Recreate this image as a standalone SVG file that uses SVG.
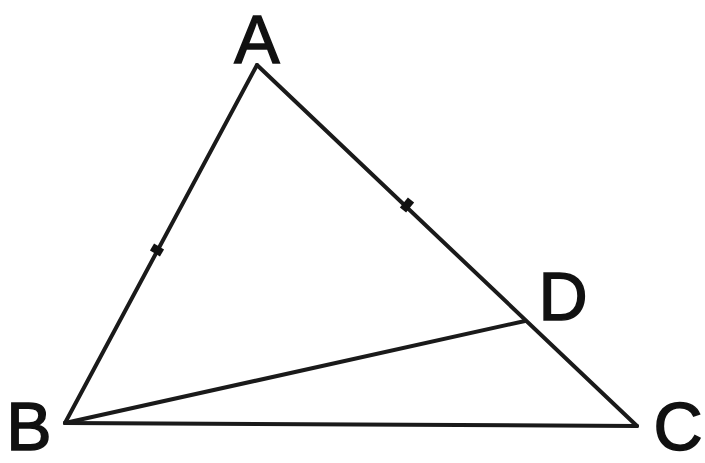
<svg xmlns="http://www.w3.org/2000/svg" width="705" height="463" viewBox="0 0 705 463">
<style>
.e{stroke:#1a1a1a;stroke-width:4;stroke-linecap:round;fill:none}
.t{stroke:#111;stroke-width:8;stroke-linecap:butt}
.l{font-family:"Liberation Sans",Arial,sans-serif;font-size:68px;fill:#111;stroke:#111;stroke-width:1.5;text-anchor:middle}
</style>
<rect width="705" height="463" fill="#fff"/>
<g id="connectors">
<line class="e" x1="257" y1="65" x2="65" y2="423"/>
<line class="e" x1="257" y1="65" x2="637" y2="426"/>
<line class="e" x1="65" y1="423" x2="637" y2="426"/>
<line class="e" x1="65" y1="423" x2="525" y2="321"/>
<line class="t" x1="152" y1="247" x2="162" y2="253"/>
<line class="t" x1="411" y1="200" x2="403" y2="210"/>
</g>
<g id="A"><text class="l" x="257" y="63">A</text></g>
<g id="B"><text class="l" x="29" y="450">B</text></g>
<g id="C"><text class="l" x="678" y="450">C</text></g>
<g id="D"><text class="l" x="563" y="320">D</text></g>
</svg>
